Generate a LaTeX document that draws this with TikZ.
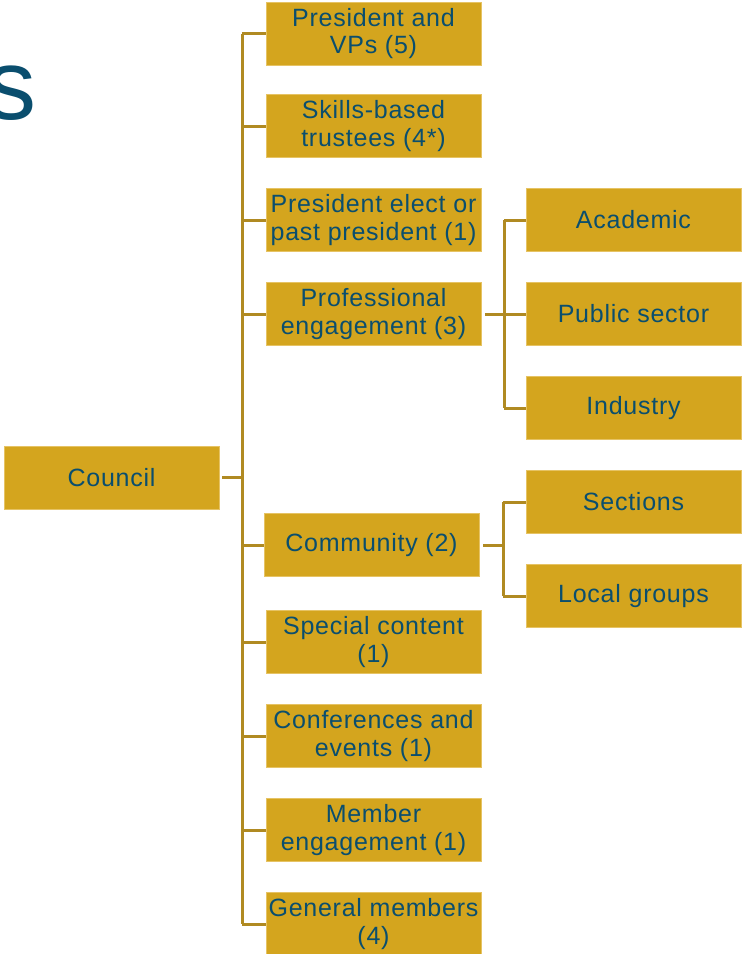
\documentclass[tikz,border=0pt]{standalone}
\usepackage{fontspec}
\setmainfont{Liberation Sans}
\newfontfamily\orgfont[LetterSpace=3]{Liberation Sans}
\usepackage{tikz}
\usepackage{xcolor}
\definecolor{orggold}{RGB}{212,165,30}
\definecolor{orgedge}{RGB}{230,195,100}
\definecolor{orgline}{RGB}{176,138,34}
\definecolor{orgblue}{RGB}{10,78,110}
\tikzset{
    org-box/.style = {fill=orggold, draw=orgedge, line width=0.8pt, text=orgblue, rectangle, minimum width=215pt, minimum height=63pt, inner sep=0pt, align=center, font=\orgfont\fontsize{25}{27.5}\selectfont},
    org-line/.style = {draw=orgline, line width=3pt},
}

\begin{document}
\begin{tikzpicture}[x=1pt, y=-1pt]
\useasboundingbox (0,0) rectangle (743,954);
\node[text=orgblue, anchor=base east, inner sep=0pt, font=\fontsize{100}{100}\selectfont] (title) at (37,119) {s};

\node [org-box] (council) at (111.5,477.5) {Council};

\node [org-box] (pres) at (373.5,33.5) {President and\\VPs (5)};
\node [org-box] (skills) at (373.5,126) {Skills-based\\trustees (4*)};
\node [org-box] (elect) at (373.5,220) {President elect or\\past president (1)};
\node [org-box] (prof) at (373.5,314) {Professional\\engagement (3)};
\node [org-box] (comm) at (371.5,545) {Community (2)};
\node [org-box] (special) at (373.5,642) {Special content\\(1)};
\node [org-box] (conf) at (373.5,736) {Conferences and\\events (1)};
\node [org-box] (member) at (373.5,830) {Member\\engagement (1)};
\node [org-box] (general) at (373.5,924) {General members\\(4)};

\node [org-box] (academic) at (633.5,220) {Academic};
\node [org-box] (public) at (633.5,314) {Public sector};
\node [org-box] (industry) at (633.5,408) {Industry};
\node [org-box] (sections) at (633.5,502) {Sections};
\node [org-box] (local) at (633.5,596) {Local groups};

% spines of the brackets
\coordinate (spine) at (242,0);
\coordinate (prof-spine) at (504,0);
\coordinate (comm-spine) at (503,0);

\draw [org-line, shorten <=3pt] (council.east) -- (spine |- council.east);
\draw [org-line] (spine |- pres.west) -- (spine |- general.west);
\foreach \kid in {pres, skills, elect, prof, comm, special, conf, member, general}
    \draw [org-line] (spine |- \kid.west) -- (\kid.west);

\draw [org-line, shorten <=4pt] (prof.east) -- (prof-spine |- prof.east);
\draw [org-line] (prof-spine |- academic.west) -- (prof-spine |- industry.west);
\foreach \kid in {academic, public, industry}
    \draw [org-line] (prof-spine |- \kid.west) -- (\kid.west);

\draw [org-line, shorten <=4pt] (comm.east) -- (comm-spine |- comm.east);
\draw [org-line] (comm-spine |- sections.west) -- (comm-spine |- local.west);
\foreach \kid in {sections, local}
    \draw [org-line] (comm-spine |- \kid.west) -- (\kid.west);
\end{tikzpicture}
\end{document}
